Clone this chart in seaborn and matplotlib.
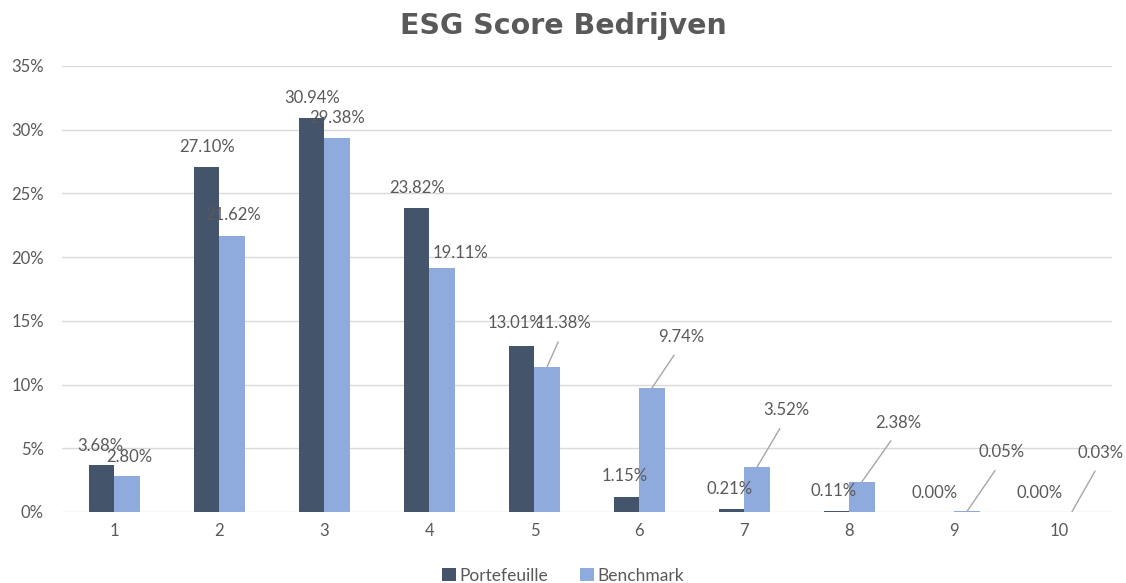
import matplotlib
matplotlib.use("Agg")
import matplotlib.pyplot as plt
import seaborn as sns
import pandas as pd
from matplotlib.ticker import FuncFormatter

# ---- data ----
scores = ["1", "2", "3", "4", "5", "6", "7", "8", "9", "10"]
portefeuille = [3.68, 27.10, 30.94, 23.82, 13.01, 1.15, 0.21, 0.11, 0.00, 0.00]
benchmark = [2.80, 21.62, 29.38, 19.11, 11.38, 9.74, 3.52, 2.38, 0.05, 0.03]
series_names = ["Portefeuille", "Benchmark"]
title = "ESG Score Bedrijven"
y_ticks = [0, 5, 10, 15, 20, 25, 30, 35]

df = pd.DataFrame({
    "Score": scores * 2,
    "Waarde": portefeuille + benchmark,
    "Reeks": [series_names[0]] * len(scores) + [series_names[1]] * len(scores),
})

sns.set_style("white")
plt.rcParams["font.family"] = ["Lato", "DejaVu Sans"]

TXT = "#595959"
colors = ["#44546A", "#8FAADC"]

fig = plt.figure(figsize=(11.26, 5.83), dpi=100)
ax = fig.add_axes([0.055, 0.1218, 0.9325, 0.765])

sns.barplot(data=df, x="Score", y="Waarde", hue="Reeks", order=scores,
            hue_order=series_names, palette=colors, saturation=1,
            width=0.48, gap=0, ax=ax, legend=True, linewidth=0)

ax.set_ylim(0, 35)
ax.set_xlim(-0.5, len(scores) - 0.5)
ax.set_yticks(y_ticks)
ax.yaxis.set_major_formatter(FuncFormatter(lambda v, p: f"{v:.0f}%"))
ax.grid(axis="y", color="#D9D9D9", linewidth=1)
ax.set_axisbelow(True)
for s in ax.spines.values():
    s.set_visible(False)
ax.tick_params(axis="both", length=0, colors=TXT, labelsize=12)
ax.tick_params(axis="y", pad=13)
ax.tick_params(axis="x", pad=8)
ax.set_xlabel("")
ax.set_ylabel("")

# label offsets in pixels (dx, dy) relative to bar top centre
p_off = [(-1, 19), (0, 20), (0, 20), (0, 20), (-6, 23), (-2, 21), (-2, 20), (-3, 20), (-7, 19), (-7, 19)]
b_off = [(2, 19), (1, 21), (0, 20), (18, 15), (16, 44), (29, 51), (29, 57), (36, 59), (35, 59), (29, 59)]
leader = [False, False, False, False, True, True, True, True, True, True]

for cont, vals, offs, lead in [(ax.containers[0], portefeuille, p_off, [False] * 10),
                               (ax.containers[1], benchmark, b_off, leader)]:
    for bar, v, (dx, dy), ld in zip(cont, vals, offs, lead):
        x = bar.get_x() + bar.get_width() / 2
        y = bar.get_height()
        kw = {}
        if ld:
            kw["arrowprops"] = dict(arrowstyle="-", color="#A6A6A6", lw=1,
                                    shrinkA=6, shrinkB=0, relpos=(0.5, 0.0))
        ax.annotate(f"{v:.2f}%", xy=(x, y), xytext=(dx, dy),
                    textcoords="offset pixels", ha="center", va="center",
                    fontsize=12, color=TXT, annotation_clip=False, **kw)

handles, labels = ax.get_legend_handles_labels()
ax.get_legend().remove()
fig.legend(handles, labels, loc="lower center", bbox_to_anchor=(0.5, -0.028),
           ncol=2, frameon=False, fontsize=12.5, handlelength=0.8, handleheight=0.8,
           handletextpad=0.2, columnspacing=1.8, labelcolor=TXT)

fig.text(0.5, 0.955, title, ha="center", va="center", fontsize=20.5,
         fontweight="bold", color=TXT, family=["DejaVu Sans"])

fig.savefig("out.png", dpi=100)
